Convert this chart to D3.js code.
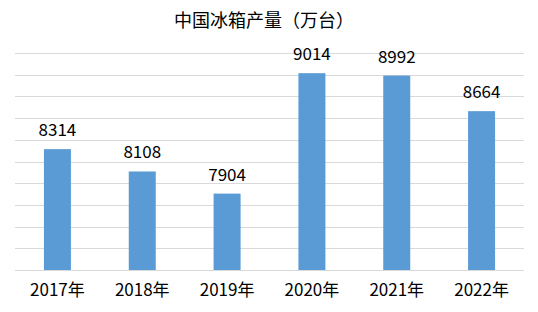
<!DOCTYPE html>
<html>
<head>
<meta charset="utf-8">
<script src="https://cdn.jsdelivr.net/npm/d3@7"></script>
<style>
  body { margin: 0; background: #fff; }
  text { font-family: "Noto Sans CJK SC", "Microsoft YaHei", sans-serif; }
</style>
</head>
<body>
<div id="chart"></div>
<script>
const years = ["2017年", "2018年", "2019年", "2020年", "2021年", "2022年"];
const output = [8314, 8108, 7904, 9014, 8992, 8664];
const yMin = 7200, yMax = 9200, yStep = 200;
const title = "中国冰箱产量（万台）";

const width = 538, height = 312;
const plotLeft = 15, plotRight = 524, plotTop = 53, plotBottom = 270;

const svg = d3.select("#chart").append("svg")
    .attr("width", width)
    .attr("height", height);

const x = d3.scaleBand().domain(years).range([plotLeft, plotRight]).padding(0);
const y = d3.scaleLinear().domain([yMin, yMax]).range([plotBottom, plotTop]);
const barW = 27;

// gridlines
const ticks = d3.range(yMin, yMax + 1, yStep);
svg.append("g").selectAll("line")
    .data(ticks)
    .enter().append("line")
    .attr("x1", plotLeft).attr("x2", plotRight)
    .attr("y1", d => Math.round(y(d)) + 0.5)
    .attr("y2", d => Math.round(y(d)) + 0.5)
    .attr("stroke", "#d9d9d9")
    .attr("stroke-width", 1);

// bars
svg.append("g").selectAll("rect")
    .data(output)
    .enter().append("rect")
    .attr("x", (d, i) => x(years[i]) + (x.bandwidth() - barW) / 2)
    .attr("y", d => y(d))
    .attr("width", barW)
    .attr("height", d => plotBottom - y(d))
    .attr("fill", "#5b9bd5");

// value labels
svg.append("g").selectAll("text")
    .data(output)
    .enter().append("text")
    .attr("x", (d, i) => x(years[i]) + x.bandwidth() / 2)
    .attr("y", d => y(d) - 13)
    .attr("text-anchor", "middle")
    .attr("font-size", 17)
    .attr("fill", "#000")
    .text(d => d);

// category labels
svg.append("g").selectAll("text")
    .data(years)
    .enter().append("text")
    .attr("x", d => x(d) + x.bandwidth() / 2)
    .attr("y", 296)
    .attr("text-anchor", "middle")
    .attr("font-size", 17)
    .attr("fill", "#000")
    .text(d => d);

// title
svg.append("text")
    .attr("x", 264)
    .attr("y", 27)
    .attr("text-anchor", "middle")
    .attr("font-size", 18)
    .attr("fill", "#000")
    .text(title);
</script>
</body>
</html>
